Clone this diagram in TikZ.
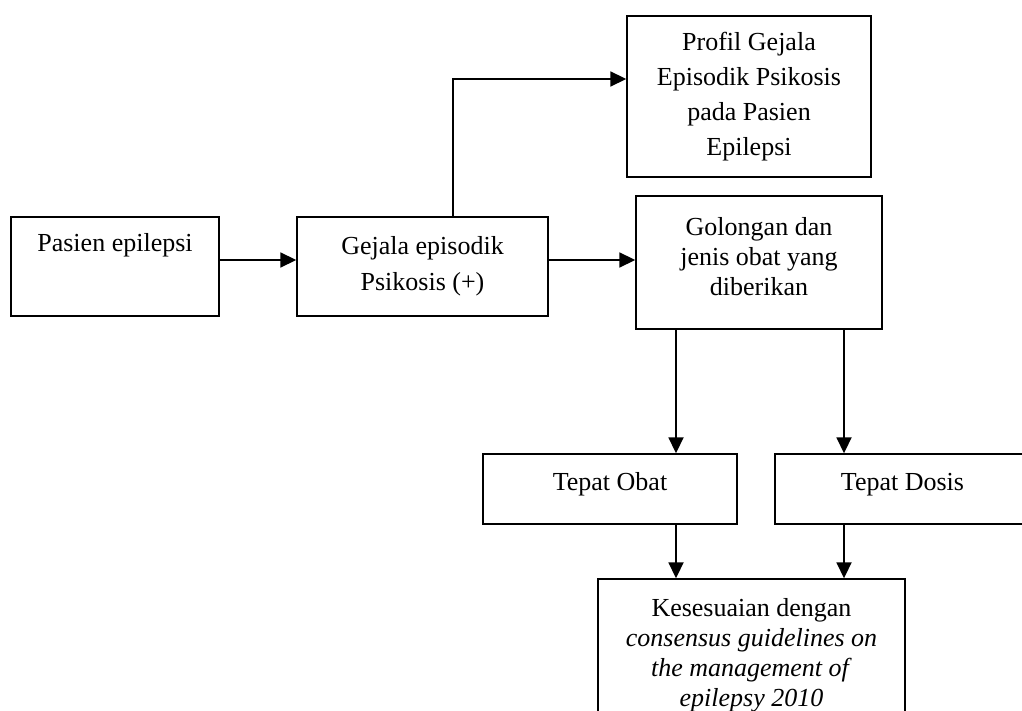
\documentclass[tikz,border=0pt]{standalone}
\usepackage{fontspec}
\setmainfont{Liberation Serif}
\usepackage{tikz}
\usetikzlibrary{arrows.meta, positioning, calc}
\tikzset{
  box/.style={
    draw=black, line width=0.7pt, align=center,
    font=\fontsize{13pt}{#1}\selectfont
  },
  box/.default=15pt,
  lonebox/.style={
    draw=black, line width=0.7pt, inner sep=0pt,
    font=\fontsize{13pt}{15pt}\selectfont
  },
  arr/.style={-{Triangle[length=8pt,width=7.5pt]}, line width=0.9pt},
}

\begin{document}
\begin{tikzpicture}[x=0.5pt, y=-0.5pt]
    \useasboundingbox (0,0) rectangle (1022,711);

    \node[lonebox, minimum width=104pt, minimum height=49.5pt,
      text height=17.5pt, text depth=32pt] (pasien) at (115,266.5)
      {Pasien epilepsi};

    \node[box=18pt, minimum width=125.5pt, minimum height=49.5pt] (gejala) at (422.5,266.5)
      {Gejala episodik\\Psikosis (+)};

    \node[box=17.5pt, minimum width=122pt, minimum height=80.5pt] (profil) at (749,96.5)
      {Profil Gejala\\Episodik Psikosis\\pada Pasien\\Epilepsi};

    \node[box, minimum width=123pt, minimum height=66.5pt, text depth=6pt] (golongan) at (759,262.5)
      {Golongan dan\\jenis obat yang\\diberikan};

    \node[lonebox, minimum width=127pt, minimum height=35pt,
      text height=18pt, text depth=17pt] (obat) at (610,489)
      {Tepat Obat};
    \node[lonebox, minimum width=127.5pt, minimum height=35pt,
      text height=18pt, text depth=17pt] (dosis) at (902.5,489)
      {Tepat Dosis};

    \node[box, minimum width=153.5pt, minimum height=76pt] (kes) at (751.5,655)
      {Kesesuaian dengan\\\textit{consensus guidelines on}\\\textit{the management of}\\\textit{epilepsy 2010}};

    \draw[arr] ([yshift=3.25pt]pasien.east) -- ([yshift=3.25pt]gejala.west);
    \draw[arr] ([yshift=3.25pt]gejala.east) -- ([yshift=3.25pt]gejala.east -| golongan.west);
    \draw[arr] ([xshift=15.25pt]gejala.north) |- ([yshift=8.75pt]profil.west);
    \draw[arr] ([xshift=-41.5pt]golongan.south) -- ([xshift=-41.5pt]golongan.south |- obat.north);
    \draw[arr] ([xshift=42.5pt]golongan.south) -- ([xshift=42.5pt]golongan.south |- dosis.north);
    \draw[arr] ([xshift=33pt]obat.south) -- ([xshift=33pt]obat.south |- kes.north);
    \draw[arr] ([xshift=-29.25pt]dosis.south) -- ([xshift=-29.25pt]dosis.south |- kes.north);
\end{tikzpicture}
\end{document}
